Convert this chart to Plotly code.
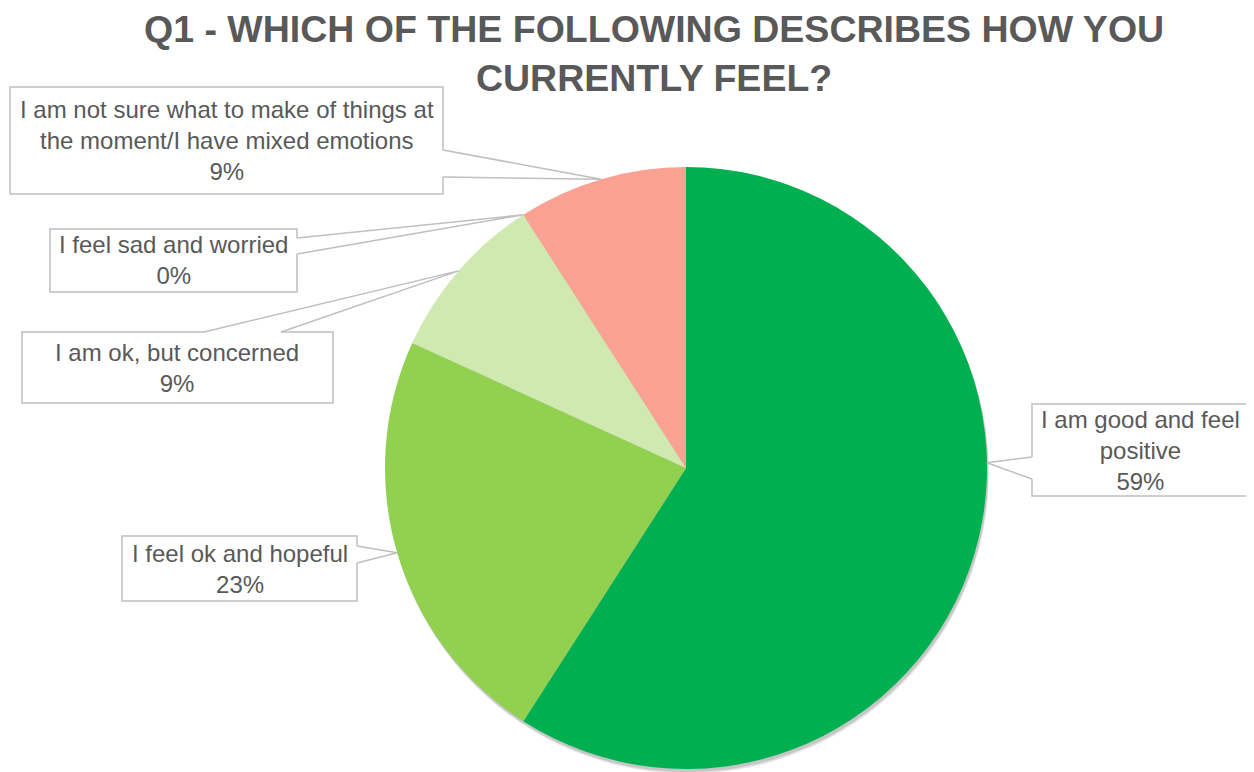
import math
import plotly.graph_objects as go

# ---------------- data ----------------
categories = [
    "I am good and feel positive",
    "I feel ok and hopeful",
    "I am ok, but concerned",
    "I feel sad and worried",
    "I am not sure what to make of things at the moment/I have mixed emotions",
]
label_texts = [
    "I am good and feel<br>positive",
    "I feel ok and hopeful",
    "I am ok, but concerned",
    "I feel sad and worried",
    "I am not sure what to make of things at<br>the moment/I have mixed emotions",
]
values = [13, 5, 2, 0, 2]
colors = ["#00B050", "#92D050", "#CFE9B1", "#F6C4B8", "#F9A192"]

title_text = "Q1 - WHICH OF THE FOLLOWING DESCRIBES HOW YOU<br>CURRENTLY FEEL?"

# ---------------- layout / style ----------------
PAGE_OFF = 8                      # default body margin of the html page
W, H = 1254 - PAGE_OFF, 772 - PAGE_OFF
CX, CY, R = 686, 468, 301          # pie centre / radius in window pixels
TEXT_COLOR = "#595959"
LINE_COLOR = "#BFBFBF"
FONT = "Liberation Sans, Arial, sans-serif"

# label boxes (window pixels): x0, y0, x1, y1, side of callout, base positions along that side
boxes = [
    dict(box=(1032, 404, 1249, 496), side="left", base=(457, 479), angle=89.0),
    dict(box=(122, 536, 357, 601), side="right", base=(546, 563), angle=None),
    dict(box=(22, 332, 333, 403), side="top", base=(204, 281), angle=None),
    dict(box=(50, 229, 297, 292), side="right", base=(238, 254), angle=None),
    dict(box=(10, 87, 443, 194), side="right", base=(150, 177), angle=None),
]


def px(x):
    return (x - PAGE_OFF) / W


def py(y):
    return 1 - (y - PAGE_OFF) / H


total = sum(values)
pct = [round(100 * v / total) for v in values]

fig = go.Figure()
fig.add_trace(go.Pie(
    labels=categories,
    values=values,
    sort=False,
    direction="clockwise",
    rotation=0,
    marker=dict(colors=colors, line=dict(color="rgba(0,0,0,0)", width=0)),
    textinfo="none",
    hoverinfo="label+percent",
    showlegend=False,
    domain=dict(x=[px(CX - R), px(CX + R)], y=[py(CY + R), py(CY - R)]),
))

shapes = []
annotations = []

# soft shadow under the pie
for off, alpha in [(5, 0.06), (4, 0.08), (3, 0.10)]:
    shapes.append(dict(
        type="circle", xref="paper", yref="paper", layer="below",
        x0=px(CX - R + off * 0.4), x1=px(CX + R + off * 0.4),
        y0=py(CY + R + off), y1=py(CY - R + off),
        fillcolor=f"rgba(0,0,0,{alpha})", line=dict(width=0),
    ))

cum = 0.0
for i, v in enumerate(values):
    frac = v / total
    mid = (cum + frac / 2) * 360.0
    cum += frac
    b = boxes[i]
    ang = b["angle"] if b["angle"] is not None else mid
    ax = CX + R * math.sin(math.radians(ang))
    ay = CY - R * math.cos(math.radians(ang))
    x0, y0, x1, y1 = b["box"]

    # box
    shapes.append(dict(
        type="rect", xref="paper", yref="paper", layer="above",
        x0=px(x0), x1=px(x1), y0=py(y1), y1=py(y0),
        fillcolor="white", line=dict(color=LINE_COLOR, width=1.5),
    ))

    # callout wedge
    s1, s2 = b["base"]
    if b["side"] == "right":
        p1, p2 = (x1, s1), (x1, s2)
        i1, i2 = (x1 - 3, s1), (x1 - 3, s2)
    elif b["side"] == "left":
        p1, p2 = (x0, s1), (x0, s2)
        i1, i2 = (x0 + 3, s1), (x0 + 3, s2)
    else:  # top
        p1, p2 = (s1, y0), (s2, y0)
        i1, i2 = (s1, y0 + 3), (s2, y0 + 3)

    fill_path = (f"M {px(i1[0])},{py(i1[1])} L {px(p1[0])},{py(p1[1])} "
                 f"L {px(ax)},{py(ay)} L {px(p2[0])},{py(p2[1])} "
                 f"L {px(i2[0])},{py(i2[1])} Z")
    shapes.append(dict(type="path", xref="paper", yref="paper", layer="above",
                       path=fill_path, fillcolor="white", line=dict(width=0)))
    line_path = (f"M {px(p1[0])},{py(p1[1])} L {px(ax)},{py(ay)} "
                 f"L {px(p2[0])},{py(p2[1])}")
    shapes.append(dict(type="path", xref="paper", yref="paper", layer="above",
                       path=line_path, fillcolor="rgba(0,0,0,0)",
                       line=dict(color=LINE_COLOR, width=1.5)))

    annotations.append(dict(
        xref="paper", yref="paper",
        x=px((x0 + x1) / 2), y=py((y0 + y1) / 2),
        xanchor="center", yanchor="middle",
        text=f"{label_texts[i]}<br>{pct[i]}%",
        showarrow=False, align="center",
        font=dict(family=FONT, size=24, color=TEXT_COLOR),
    ))

# chart title
annotations.append(dict(
    xref="paper", yref="paper",
    x=px(654), y=py(6), xanchor="center", yanchor="top",
    text=f"<b>{title_text}</b>", showarrow=False, align="center",
    font=dict(family=FONT, size=37.5, color=TEXT_COLOR),
))

fig.update_layout(
    width=W, height=H,
    margin=dict(l=0, r=0, t=0, b=0),
    paper_bgcolor="white",
    plot_bgcolor="white",
    shapes=shapes,
    annotations=annotations,
)

fig.write_html("out.html")
